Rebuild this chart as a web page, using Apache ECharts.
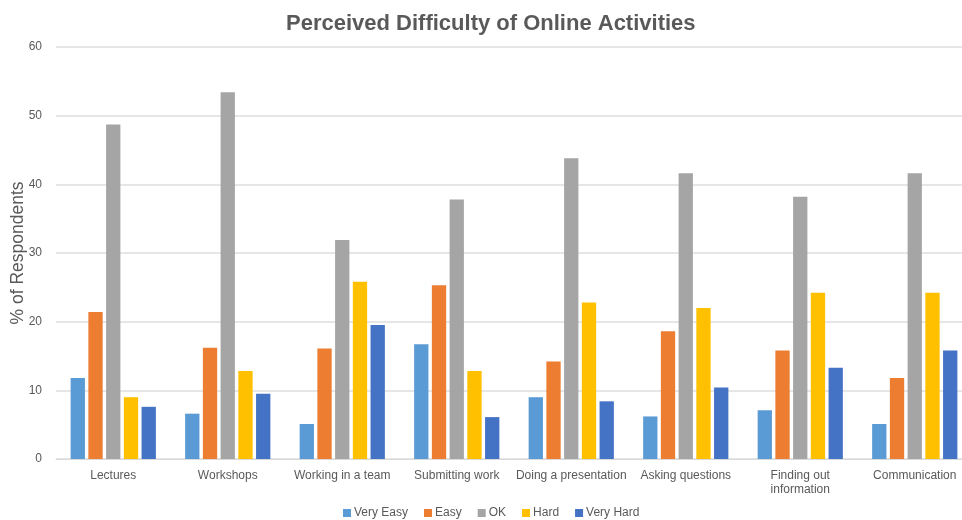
<!DOCTYPE html>
<html>
<head>
<meta charset="utf-8">
<script src="https://cdn.jsdelivr.net/npm/echarts@6/dist/echarts.min.js"></script>
<style>
  html, body { margin: 0; padding: 0; background: #fff; overflow: hidden; }
  #chart { width: 962px; height: 520px; }
</style>
</head>
<body>
<div id="chart"></div>
<script>
// Activities surveyed
const categories = [
  'Lectures', 'Workshops', 'Working in a team', 'Submitting work',
  'Doing a presentation', 'Asking questions', 'Finding out\ninformation', 'Communication'
];

// % of respondents per difficulty rating
const veryEasy = [11.8, 6.6, 5.1, 16.7, 9.0, 6.2, 7.1, 5.1];
const easy     = [21.4, 16.2, 16.1, 25.3, 14.2, 18.6, 15.8, 11.8];
const ok       = [48.7, 53.4, 31.9, 37.8, 43.8, 41.6, 38.2, 41.6];
const hard     = [9.0, 12.8, 25.8, 12.8, 22.8, 22.0, 24.2, 24.2];
const veryHard = [7.6, 9.5, 19.5, 6.1, 8.4, 10.4, 13.3, 15.8];

const yTicks = [0, 10, 20, 30, 40, 50, 60];

const seriesDefs = [
  { name: 'Very Easy', data: veryEasy, color: '#5B9BD5' },
  { name: 'Easy',      data: easy,     color: '#ED7D31' },
  { name: 'OK',        data: ok,       color: '#A5A5A5' },
  { name: 'Hard',      data: hard,     color: '#FFC000' },
  { name: 'Very Hard', data: veryHard, color: '#4472C4' }
];

const textColor = '#595959';
const font = 'Liberation Sans, Arial, sans-serif';

const chart = echarts.init(document.getElementById('chart'), null, { renderer: 'canvas' });

chart.setOption({
  animation: false,
  textStyle: { fontFamily: font },
  title: {
    text: 'Perceived Difficulty of Online Activities',
    left: 281,
    top: 8,
    textStyle: { color: textColor, fontSize: 22, fontWeight: 'bold', fontFamily: font }
  },
  legend: {
    bottom: -4,
    left: 338,
    itemWidth: 8,
    itemHeight: 8,
    itemGap: 16,
    icon: 'rect',
    textStyle: { color: textColor, fontSize: 12, padding: [0, 0, 0, -2] },
    data: seriesDefs.map(s => s.name)
  },
  grid: {
    left: 56, right: -10, top: 47, bottom: 61,
    containLabel: false,
    outerBoundsMode: 'none'
  },
  xAxis: {
    type: 'category',
    data: categories,
    axisTick: { show: false },
    axisLine: { lineStyle: { color: '#D9D9D9', width: 1 } },
    axisLabel: { color: textColor, fontSize: 12, margin: 10, interval: 0, lineHeight: 14 }
  },
  yAxis: {
    type: 'value',
    min: yTicks[0],
    max: yTicks[yTicks.length - 1],
    interval: 10,
    name: '% of Respondents',
    nameLocation: 'middle',
    nameGap: 29,
    nameMoveOverlap: false,
    nameTextStyle: { color: textColor, fontSize: 17.5 },
    axisLine: { show: false },
    axisTick: { show: false },
    axisLabel: { color: textColor, fontSize: 12, margin: 14 },
    splitLine: { lineStyle: { color: '#DEDEDE', width: 1.5 } }
  },
  series: seriesDefs.map(s => ({
    name: s.name,
    type: 'bar',
    data: s.data,
    barWidth: 14.3,
    barGap: '24%',
    itemStyle: { color: s.color }
  }))
});
</script>
</body>
</html>
